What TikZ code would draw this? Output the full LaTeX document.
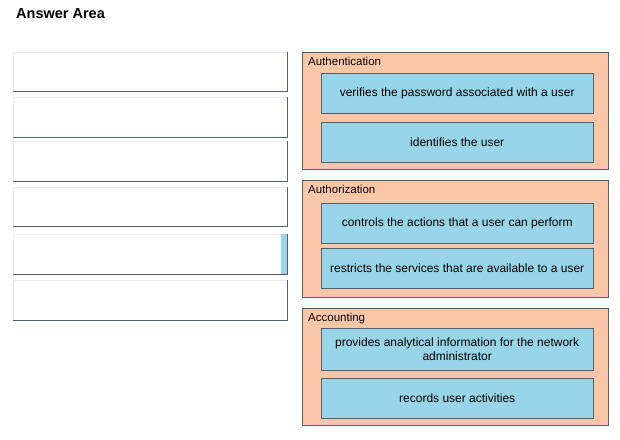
\documentclass[tikz,border=0pt]{standalone}
\usepackage{fontspec}
\setmainfont{Liberation Sans}
\definecolor{panelpeach}{RGB}{252,198,168}
\definecolor{itemblue}{RGB}{152,213,232}
\definecolor{edgegray}{RGB}{85,95,105}

\begin{document}
\begin{tikzpicture}[x=1pt,y=-1pt,
  slot/.style={draw=gray!15, fill=white, anchor=north west,
    minimum width=274pt, inner sep=0pt},
  panel/.style={draw=edgegray, fill=panelpeach, anchor=north west,
    minimum width=306pt, minimum height=117pt, inner sep=0pt},
  item/.style={draw=edgegray, fill=itemblue, anchor=north west,
    minimum width=272pt, minimum height=40pt, align=center,
    font=\fontsize{12}{13.5}\selectfont, inner sep=2pt},
  heading/.style={anchor=north west, inner sep=0pt,
    font=\fontsize{11.5}{13}\selectfont}]
\useasboundingbox (0,0) rectangle (620,439);

\node[anchor=north west, inner sep=0pt, font=\bfseries\fontsize{14.5}{16}\selectfont]
  (answer) at (16,8) {Answer Area};

% empty answer slots
\node[slot, minimum height=39pt] (s1) at (13,52) {};
\node[slot, minimum height=40pt] (s2) at (13,97) {};
\node[slot, minimum height=40pt] (s3) at (13,141) {};
\node[slot, minimum height=39pt] (s4) at (13,187) {};
\node[slot, minimum height=40pt] (s5) at (13,234) {};
\node[slot, minimum height=40pt] (s6) at (13,280) {};
\fill[itemblue] ([xshift=-6pt]s5.north east) rectangle (s5.south east);
\foreach \s in {s1,s2,s3,s4,s5,s6}{
  \draw[edgegray] (\s.north east) -- (\s.south east) -- (\s.south west);
}

% Authentication
\node[panel] (auth) at (302,52) {};
\node[heading] (authlbl) at (308,57) {Authentication};
\node[item] (auth1) at (321,73) {verifies the password associated with a user};
\node[item] (auth2) at (321,122) {identifies the user};

% Authorization
\node[panel] (authz) at (302,180) {};
\node[heading] (authzlbl) at (308,185) {Authorization};
\node[item] (authz1) at (321,203) {controls the actions that a user can perform};
\node[item] (authz2) at (321,248) {restricts the services that are available to a user};

% Accounting
\node[panel] (acct) at (302,308) {};
\node[heading] (acctlbl) at (308,313) {Accounting};
\node[item, minimum height=42pt] (acct1) at (321,328)
  {provides analytical information for the network\\administrator};
\node[item] (acct2) at (321,378) {records user activities};
\end{tikzpicture}
\end{document}
